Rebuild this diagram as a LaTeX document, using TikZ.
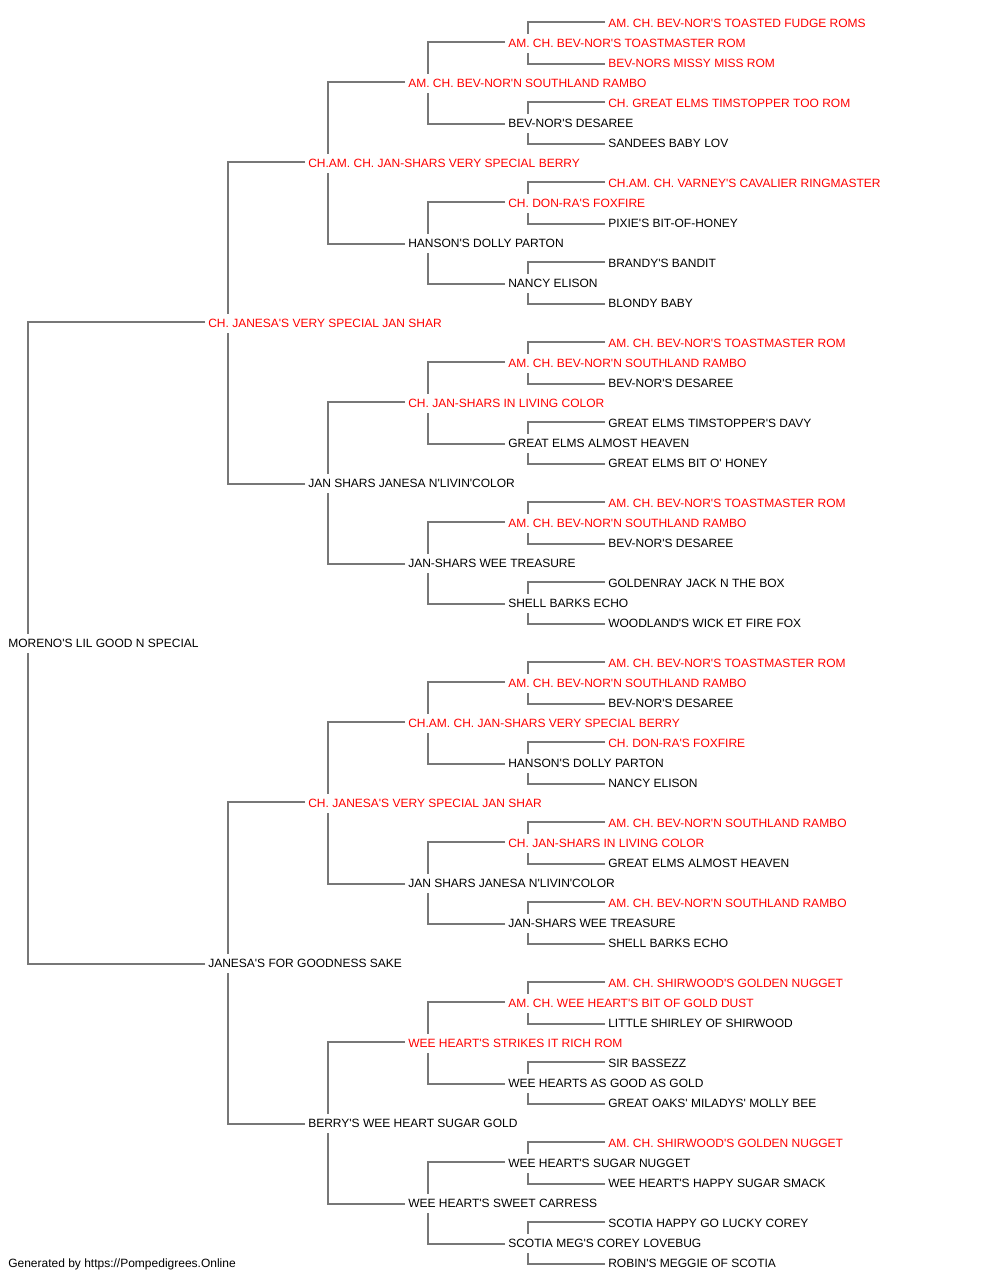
\documentclass[tikz,border=0pt]{standalone}
\usepackage{fontspec}
\newfontfamily\pedfont{Liberation Sans}
\usetikzlibrary{calc}
\definecolor{lkgray}{HTML}{777777}
\tikzset{
  nblack/.style={anchor=west, inner sep=0pt, text height=6.44pt, text depth=0pt, font=\pedfont\fontsize{9}{10}\selectfont, text=black},
  nred/.style={nblack, text=red},
  lk/.style={draw=lkgray, line width=1.5pt}
}
\newcommand\pedlink[3]{%
  \draw[lk] ($(#2.west)+(-3,-1.3)$) -| ($(#1.west)+(20,-9.3)$);
  \draw[lk] ($(#3.west)+(-3,0.7)$) -| ($(#1.west)+(20,9.7)$);
}
\begin{document}
\begin{tikzpicture}[x=0.75pt,y=-0.75pt]
\useasboundingbox (0,0) rectangle (1000,1280);
% generation 0
\node[nblack] (n0) at (8,643.3) {MORENO'S LIL GOOD N SPECIAL};
% generation 1
\node[nred] (a1) at (208,323.3) {CH. JANESA'S VERY SPECIAL JAN SHAR};
\node[nblack] (a2) at (208,963.3) {JANESA'S FOR GOODNESS SAKE};
% generation 2
\node[nred] (b1) at (308,163.3) {CH.AM. CH. JAN-SHARS VERY SPECIAL BERRY};
\node[nblack] (b2) at (308,483.3) {JAN SHARS JANESA N'LIVIN'COLOR};
\node[nred] (b3) at (308,803.3) {CH. JANESA'S VERY SPECIAL JAN SHAR};
\node[nblack] (b4) at (308,1123.3) {BERRY'S WEE HEART SUGAR GOLD};
% generation 3
\node[nred] (c1) at (408,83.3) {AM. CH. BEV-NOR'N SOUTHLAND RAMBO};
\node[nblack] (c2) at (408,243.3) {HANSON'S DOLLY PARTON};
\node[nred] (c3) at (408,403.3) {CH. JAN-SHARS IN LIVING COLOR};
\node[nblack] (c4) at (408,563.3) {JAN-SHARS WEE TREASURE};
\node[nred] (c5) at (408,723.3) {CH.AM. CH. JAN-SHARS VERY SPECIAL BERRY};
\node[nblack] (c6) at (408,883.3) {JAN SHARS JANESA N'LIVIN'COLOR};
\node[nred] (c7) at (408,1043.3) {WEE HEART'S STRIKES IT RICH ROM};
\node[nblack] (c8) at (408,1203.3) {WEE HEART'S SWEET CARRESS};
% generation 4
\node[nred] (d1) at (508,43.3) {AM. CH. BEV-NOR'S TOASTMASTER ROM};
\node[nblack] (d2) at (508,123.3) {BEV-NOR'S DESAREE};
\node[nred] (d3) at (508,203.3) {CH. DON-RA'S FOXFIRE};
\node[nblack] (d4) at (508,283.3) {NANCY ELISON};
\node[nred] (d5) at (508,363.3) {AM. CH. BEV-NOR'N SOUTHLAND RAMBO};
\node[nblack] (d6) at (508,443.3) {GREAT ELMS ALMOST HEAVEN};
\node[nred] (d7) at (508,523.3) {AM. CH. BEV-NOR'N SOUTHLAND RAMBO};
\node[nblack] (d8) at (508,603.3) {SHELL BARKS ECHO};
\node[nred] (d9) at (508,683.3) {AM. CH. BEV-NOR'N SOUTHLAND RAMBO};
\node[nblack] (d10) at (508,763.3) {HANSON'S DOLLY PARTON};
\node[nred] (d11) at (508,843.3) {CH. JAN-SHARS IN LIVING COLOR};
\node[nblack] (d12) at (508,923.3) {JAN-SHARS WEE TREASURE};
\node[nred] (d13) at (508,1003.3) {AM. CH. WEE HEART'S BIT OF GOLD DUST};
\node[nblack] (d14) at (508,1083.3) {WEE HEARTS AS GOOD AS GOLD};
\node[nblack] (d15) at (508,1163.3) {WEE HEART'S SUGAR NUGGET};
\node[nblack] (d16) at (508,1243.3) {SCOTIA MEG'S COREY LOVEBUG};
% generation 5
\node[nred] (e1) at (608,23.3) {AM. CH. BEV-NOR'S TOASTED FUDGE ROMS};
\node[nred] (e2) at (608,63.3) {BEV-NORS MISSY MISS ROM};
\node[nred] (e3) at (608,103.3) {CH. GREAT ELMS TIMSTOPPER TOO ROM};
\node[nblack] (e4) at (608,143.3) {SANDEES BABY LOV};
\node[nred] (e5) at (608,183.3) {CH.AM. CH. VARNEY'S CAVALIER RINGMASTER};
\node[nblack] (e6) at (608,223.3) {PIXIE'S BIT-OF-HONEY};
\node[nblack] (e7) at (608,263.3) {BRANDY'S BANDIT};
\node[nblack] (e8) at (608,303.3) {BLONDY BABY};
\node[nred] (e9) at (608,343.3) {AM. CH. BEV-NOR'S TOASTMASTER ROM};
\node[nblack] (e10) at (608,383.3) {BEV-NOR'S DESAREE};
\node[nblack] (e11) at (608,423.3) {GREAT ELMS TIMSTOPPER'S DAVY};
\node[nblack] (e12) at (608,463.3) {GREAT ELMS BIT O' HONEY};
\node[nred] (e13) at (608,503.3) {AM. CH. BEV-NOR'S TOASTMASTER ROM};
\node[nblack] (e14) at (608,543.3) {BEV-NOR'S DESAREE};
\node[nblack] (e15) at (608,583.3) {GOLDENRAY JACK N THE BOX};
\node[nblack] (e16) at (608,623.3) {WOODLAND'S WICK ET FIRE FOX};
\node[nred] (e17) at (608,663.3) {AM. CH. BEV-NOR'S TOASTMASTER ROM};
\node[nblack] (e18) at (608,703.3) {BEV-NOR'S DESAREE};
\node[nred] (e19) at (608,743.3) {CH. DON-RA'S FOXFIRE};
\node[nblack] (e20) at (608,783.3) {NANCY ELISON};
\node[nred] (e21) at (608,823.3) {AM. CH. BEV-NOR'N SOUTHLAND RAMBO};
\node[nblack] (e22) at (608,863.3) {GREAT ELMS ALMOST HEAVEN};
\node[nred] (e23) at (608,903.3) {AM. CH. BEV-NOR'N SOUTHLAND RAMBO};
\node[nblack] (e24) at (608,943.3) {SHELL BARKS ECHO};
\node[nred] (e25) at (608,983.3) {AM. CH. SHIRWOOD'S GOLDEN NUGGET};
\node[nblack] (e26) at (608,1023.3) {LITTLE SHIRLEY OF SHIRWOOD};
\node[nblack] (e27) at (608,1063.3) {SIR BASSEZZ};
\node[nblack] (e28) at (608,1103.3) {GREAT OAKS' MILADYS' MOLLY BEE};
\node[nred] (e29) at (608,1143.3) {AM. CH. SHIRWOOD'S GOLDEN NUGGET};
\node[nblack] (e30) at (608,1183.3) {WEE HEART'S HAPPY SUGAR SMACK};
\node[nblack] (e31) at (608,1223.3) {SCOTIA HAPPY GO LUCKY COREY};
\node[nblack] (e32) at (608,1263.3) {ROBIN'S MEGGIE OF SCOTIA};
% footer
\node[nblack] (foot) at (8,1263.3) {Generated by https://Pompedigrees.Online};
% connectors
\pedlink{n0}{a1}{a2}
\pedlink{a1}{b1}{b2}
\pedlink{a2}{b3}{b4}
\foreach \i [evaluate=\i as \f using int(2*\i-1), evaluate=\i as \m using int(2*\i)] in {1,...,4} {\pedlink{b\i}{c\f}{c\m}}
\foreach \i [evaluate=\i as \f using int(2*\i-1), evaluate=\i as \m using int(2*\i)] in {1,...,8} {\pedlink{c\i}{d\f}{d\m}}
\foreach \i [evaluate=\i as \f using int(2*\i-1), evaluate=\i as \m using int(2*\i)] in {1,...,16} {\pedlink{d\i}{e\f}{e\m}}
\end{tikzpicture}
\end{document}
